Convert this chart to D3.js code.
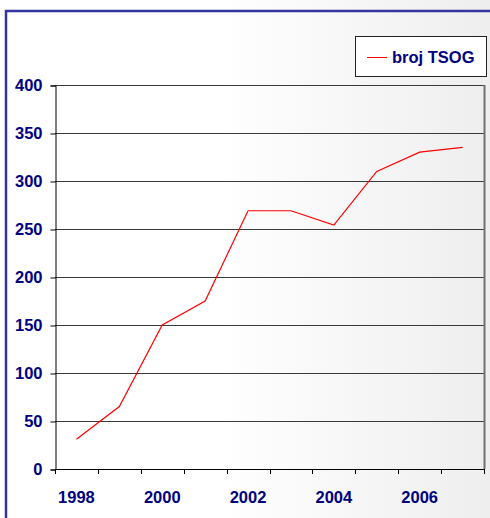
<!DOCTYPE html>
<html>
<head>
<meta charset="utf-8">
<script src="https://cdn.jsdelivr.net/npm/d3@7"></script>
<style>
  html, body { margin: 0; padding: 0; background: #fff; }
  svg { display: block; }
  text { font-family: "Liberation Sans", Arial, sans-serif; font-weight: bold; fill: #000080; }
</style>
</head>
<body>
<div id="chart"></div>
<script>
const years = [1998, 1999, 2000, 2001, 2002, 2003, 2004, 2005, 2006, 2007];
const tsog = [31, 65, 150, 175, 269, 269, 254, 310, 330, 335];
const yTicks = [0, 50, 100, 150, 200, 250, 300, 350, 400];
const xLabels = [1998, 2000, 2002, 2004, 2006];
const seriesName = "broj TSOG";

const width = 490, height = 518;
const plot = { left: 55, right: 484, top: 85, bottom: 469 };

const svg = d3.select("#chart").append("svg")
    .attr("width", width)
    .attr("height", height);

// soft background, white on the left fading to grey on the right
const grad = svg.append("defs").append("linearGradient")
    .attr("id", "bg")
    .attr("x1", 0).attr("x2", 1).attr("y1", 0).attr("y2", 0);
grad.append("stop").attr("offset", "0%").attr("stop-color", "#ffffff");
grad.append("stop").attr("offset", "45%").attr("stop-color", "#ffffff");
grad.append("stop").attr("offset", "100%").attr("stop-color", "#eeeeee");

svg.append("rect")
    .attr("width", width)
    .attr("height", height)
    .attr("fill", "url(#bg)");

// blue frame, running off the right and bottom edges
svg.append("rect")
    .attr("x", 6)
    .attr("y", 11)
    .attr("width", 520)
    .attr("height", 540)
    .attr("fill", "none")
    .attr("stroke", "#3434a2")
    .attr("stroke-width", 2.5);

const x = d3.scaleBand()
    .domain(years)
    .range([plot.left, plot.right]);

const y = d3.scaleLinear()
    .domain([0, 400])
    .range([plot.bottom, plot.top]);

// gridlines
svg.append("g")
    .selectAll("line")
    .data(yTicks)
    .join("line")
    .attr("x1", plot.left)
    .attr("x2", plot.right)
    .attr("y1", d => Math.round(y(d)) + 0.5)
    .attr("y2", d => Math.round(y(d)) + 0.5)
    .attr("stroke", "#3a3a3a")
    .attr("stroke-width", 1);

// right border of the plot
svg.append("line")
    .attr("x1", plot.right + 0.5)
    .attr("x2", plot.right + 0.5)
    .attr("y1", plot.top)
    .attr("y2", plot.bottom)
    .attr("stroke", "#707070")
    .attr("stroke-width", 2);

// y axis
const yAxis = svg.append("g")
    .attr("transform", `translate(${plot.left + 0.5},0.5)`)
    .call(d3.axisLeft(y).tickValues(yTicks).tickSize(5).tickPadding(8));
yAxis.select(".domain").attr("stroke", "#000");
yAxis.selectAll(".tick line").attr("stroke", "#000");
yAxis.selectAll("text")
    .attr("font-size", "16.5px")
    .attr("font-family", "Liberation Sans, Arial, sans-serif")
    .attr("font-weight", "bold")
    .attr("fill", "#000080");

// x axis: ticks at category boundaries
const bounds = years.map(d => x(d)).concat([plot.right]);
svg.append("line")
    .attr("x1", plot.left)
    .attr("x2", plot.right)
    .attr("y1", plot.bottom + 0.5)
    .attr("y2", plot.bottom + 0.5)
    .attr("stroke", "#000");
svg.append("g")
    .selectAll("line")
    .data(bounds)
    .join("line")
    .attr("x1", d => Math.round(d) + 0.5)
    .attr("x2", d => Math.round(d) + 0.5)
    .attr("y1", plot.bottom)
    .attr("y2", plot.bottom + 5)
    .attr("stroke", "#000");

svg.append("g")
    .selectAll("text")
    .data(xLabels)
    .join("text")
    .attr("x", d => x(d) + x.bandwidth() / 2)
    .attr("y", 503)
    .attr("text-anchor", "middle")
    .attr("font-size", "16.5px")
    .text(d => d);

// series line
const line = d3.line()
    .x(d => x(d[0]) + x.bandwidth() / 2)
    .y(d => y(d[1]));

svg.append("path")
    .datum(years.map((d, i) => [d, tsog[i]]))
    .attr("d", line)
    .attr("fill", "none")
    .attr("stroke", "#ff0000")
    .attr("stroke-width", 1.2);

// legend
const legend = svg.append("g");
legend.append("rect")
    .attr("x", 355.5)
    .attr("y", 36.5)
    .attr("width", 131)
    .attr("height", 40)
    .attr("fill", "#fff")
    .attr("stroke", "#222");
legend.append("line")
    .attr("x1", 367)
    .attr("x2", 387)
    .attr("y1", 57.5)
    .attr("y2", 57.5)
    .attr("stroke", "#ff0000");
legend.append("text")
    .attr("x", 392)
    .attr("y", 63)
    .attr("font-size", "16.5px")
    .text(seriesName);
</script>
</body>
</html>
